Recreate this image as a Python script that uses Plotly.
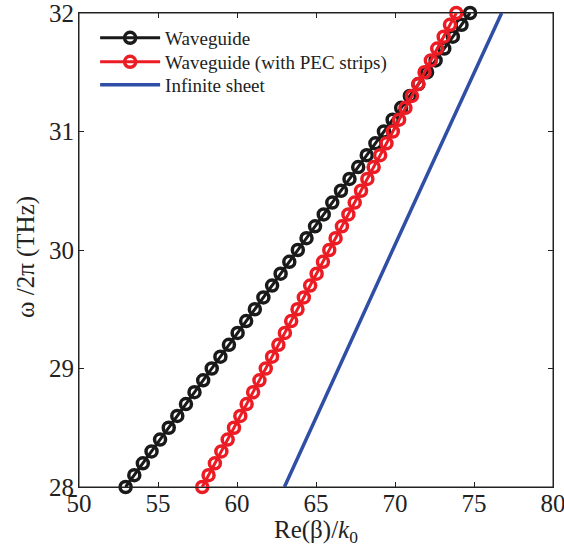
import plotly.graph_objects as go

freq = [28.0, 28.1, 28.2, 28.3, 28.4, 28.5, 28.6, 28.7, 28.8, 28.9,
        29.0, 29.1, 29.2, 29.3, 29.4, 29.5, 29.6, 29.7, 29.8, 29.9,
        30.0, 30.1, 30.2, 30.3, 30.4, 30.5, 30.6, 30.7, 30.8, 30.9,
        31.0, 31.1, 31.2, 31.3, 31.4, 31.5, 31.6, 31.7, 31.8, 31.9, 32.0]

waveguide = [52.95, 53.50, 54.04, 54.59, 55.13, 55.68, 56.22, 56.77, 57.31, 57.86,
             58.40, 58.95, 59.49, 60.04, 60.58, 61.13, 61.67, 62.22, 62.76, 63.31,
             63.85, 64.40, 64.94, 65.49, 66.03, 66.58, 67.12, 67.67, 68.21, 68.76,
             69.30, 69.85, 70.39, 70.94, 71.48, 72.03, 72.57, 73.12, 73.66, 74.21, 74.75]

waveguide_pec = [57.80, 58.20, 58.60, 59.01, 59.41, 59.81, 60.21, 60.61, 61.02, 61.42,
                 61.82, 62.22, 62.62, 63.03, 63.43, 63.83, 64.23, 64.63, 65.04, 65.44,
                 65.84, 66.24, 66.64, 67.05, 67.45, 67.85, 68.25, 68.65, 69.06, 69.46,
                 69.86, 70.26, 70.66, 71.07, 71.47, 71.87, 72.27, 72.67, 73.08, 73.48, 73.88]

sheet_freq = [28.0, 28.5, 29.0, 29.5, 30.0, 30.5, 31.0, 31.5, 32.0]
sheet = [63.0, 64.7, 66.4, 68.12, 69.85, 71.57, 73.3, 75.02, 76.75]

x_ticks = [50, 55, 60, 65, 70, 75, 80]
y_ticks = [28, 29, 30, 31, 32]

BLACK = "#1a1a1a"
RED = "#ec1c24"
BLUE = "#2f4fa6"
FONT = "Liberation Serif"
TXT = "#222"

fig = go.Figure()
fig.add_trace(go.Scatter(
    x=waveguide, y=freq, mode="lines+markers", name="Waveguide",
    line=dict(color=BLACK, width=3),
    marker=dict(symbol="circle-open", size=11, color=BLACK, line=dict(width=3.5, color=BLACK)),
    cliponaxis=False, legend="legend"))
fig.add_trace(go.Scatter(
    x=waveguide_pec, y=freq, mode="lines+markers", name="Waveguide (with PEC strips)",
    line=dict(color=RED, width=3),
    marker=dict(symbol="circle-open", size=11, color=RED, line=dict(width=3.5, color=RED)),
    cliponaxis=False, legend="legend2"))
fig.add_trace(go.Scatter(
    x=sheet, y=sheet_freq, mode="lines", name="Infinite sheet",
    line=dict(color=BLUE, width=3.5),
    cliponaxis=False, legend="legend3"))

axis_common = dict(
    showline=True, linecolor=TXT, linewidth=1, mirror="ticks",
    ticks="inside", ticklen=5, tickcolor=TXT, tickwidth=1,
    showgrid=False, zeroline=False, automargin=False,
    ticklabeloverflow="allow",
    tickfont=dict(family=FONT, size=25, color=TXT),
)

fig.update_xaxes(range=[50, 80], tickvals=x_ticks, ticktext=[str(v) for v in x_ticks],
                 ticklabelstandoff=-6, **axis_common)
fig.update_yaxes(range=[28, 32], tickvals=y_ticks, ticktext=[str(v) for v in y_ticks],
                 ticklabelstandoff=-1, **axis_common)

fig.add_shape(type="rect", xref="paper", yref="paper", x0=0, y0=0, x1=1, y1=1,
              line=dict(color=TXT, width=1), layer="below")

fig.add_annotation(text="Re(β)/<i>k</i><sub>0</sub>", xref="paper", yref="paper",
                   x=0.5, y=0, yshift=-44, xanchor="center", yanchor="middle",
                   showarrow=False, font=dict(family=FONT, size=25, color=TXT))
fig.add_annotation(text="ω /2π (THz)", xref="paper", yref="paper",
                   x=0, y=0.5, xshift=-53, yshift=-7, xanchor="center", yanchor="middle",
                   textangle=-90, showarrow=False, font=dict(family=FONT, size=25, color=TXT))

PLOT_TOP = 13
PLOT_H = 474


def leg(row_px):
    return dict(x=0.034, y=1 - (row_px - PLOT_TOP) / PLOT_H, xanchor="left", yanchor="middle",
                bgcolor="rgba(0,0,0,0)", font=dict(family=FONT, size=19, color=TXT),
                itemwidth=60, tracegroupgap=0)


fig.update_layout(
    width=564, height=550,
    margin=dict(l=79, r=11, t=13, b=63, autoexpand=False),
    plot_bgcolor="white", paper_bgcolor="white",
    font=dict(family=FONT, color=TXT),
    showlegend=True,
    legend=leg(38), legend2=leg(62), legend3=leg(85),
)

fig.write_html("out.html", config={"displayModeBar": False},
               post_script="document.body.style.margin='0';document.body.style.overflow='hidden';")
